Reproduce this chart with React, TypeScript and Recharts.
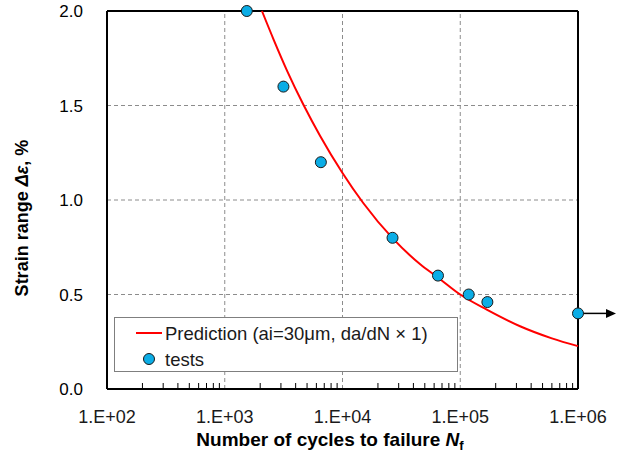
import React from 'react';
import { ComposedChart, Line, Scatter, XAxis, YAxis, CartesianGrid, ReferenceLine, Legend } from 'recharts';

// Prediction curve (ai=30µm, da/dN x1)
const predictionN = [2070, 2600, 3400, 4660, 6460, 10000, 15000, 26600, 45700, 64700, 100000, 168000, 322000, 600000, 1000000];
const predictionStrain = [2.0, 1.849, 1.681, 1.504, 1.339, 1.143, 0.984, 0.798, 0.66, 0.59, 0.5, 0.42, 0.332, 0.268, 0.227];

// Test results
const testN = [1540, 3150, 6550, 26600, 64700, 118000, 170000];
const testStrain = [2.0, 1.6, 1.2, 0.8, 0.6, 0.5, 0.46];

// Run-out test (no failure)
const runoutN = [1000000];
const runoutStrain = [0.4];

const xTicks = [100, 1000, 10000, 100000, 1000000];
const xMinorTicks = [100, 1000, 10000, 100000].flatMap((d) => [2, 3, 4, 5, 6, 7, 8, 9].map((m) => m * d));
const xInnerGrid = [1000, 10000, 100000];
const yTicks = [0, 0.5, 1.0, 1.5, 2.0];

const allXTicks = [...xTicks, ...xMinorTicks].sort((a, b) => a - b);
const predictionData = predictionN.map((N, i) => ({ N, e: predictionStrain[i] }));
const testData = testN.map((N, i) => ({ N, e: testStrain[i] }));
const runoutData = runoutN.map((N, i) => ({ N, e: runoutStrain[i] }));

const MARKER_FILL = '#0BADE6';
const MARKER_STROKE = '#1a1a1a';
const FONT = "'Liberation Sans', Arial, sans-serif";
const TICK_MARGIN = 21;

const Dot = (props: any) => {
  const { cx, cy } = props;
  return <circle cx={cx} cy={cy} r={5.5} fill={MARKER_FILL} stroke={MARKER_STROKE} strokeWidth={1} />;
};

const RunoutDot = (props: any) => {
  const { cx, cy } = props;
  return (
    <g>
      <line x1={cx} y1={cy} x2={cx + 30} y2={cy} stroke="#000" strokeWidth={1.5} />
      <polygon points={`${cx + 38},${cy} ${cx + 28},${cy - 4.5} ${cx + 28},${cy + 4.5}`} fill="#000" />
      <circle cx={cx} cy={cy} r={5.5} fill={MARKER_FILL} stroke={MARKER_STROKE} strokeWidth={1} />
    </g>
  );
};

const fmtX = (v: number) => {
  const exp = Math.round(Math.log10(v));
  return `1.E+${exp < 10 ? '0' + exp : exp}`;
};

const XTick = (props: any) => {
  const { x, y, payload } = props;
  const v = payload.value;
  const major = xTicks.includes(v);
  const axisY = y - TICK_MARGIN;
  return (
    <g>
      {!major && <line x1={x} x2={x} y1={axisY - 1} y2={axisY - 6} stroke="#000" strokeWidth={1} />}
      {major && (
        <text x={x} y={y} dy="0.71em" textAnchor="middle" fontFamily={FONT} fontSize={18} fill="#1a1a1a">
          {fmtX(v)}
        </text>
      )}
    </g>
  );
};

const LegendBox = (props: any) => {
  const items = (props.payload || []).filter((p: any) => p.type !== 'none');
  return (
    <div style={{ width: 344, height: 55, boxSizing: 'border-box', border: '1px solid #7f7f7f', background: '#fff' }}>
      <svg width={342} height={53} style={{ display: 'block' }}>
        {items.map((it: any, i: number) => {
          const cy = 15 + i * 26;
          return (
            <g key={i}>
              {it.type === 'line' ? (
                <line x1={21} y1={cy} x2={47} y2={cy} stroke="#ff0000" strokeWidth={2} />
              ) : (
                <circle cx={34} cy={cy} r={5.5} fill={MARKER_FILL} stroke={MARKER_STROKE} strokeWidth={1} />
              )}
              <text x={50} y={cy + 6.5} fontFamily={FONT} fontSize={18.5} fill="#1a1a1a">
                {it.value}
              </text>
            </g>
          );
        })}
      </svg>
    </div>
  );
};

const YTitle = () => (
  <text transform="translate(28, 218) rotate(-90)" textAnchor="middle" fontFamily={FONT} fontWeight="bold" fontSize={18} fill="#000">
    Strain range <tspan fontStyle="italic">Δε</tspan>, %
  </text>
);

const XTitle = () => (
  <text x={330} y={446} textAnchor="middle" fontFamily={FONT} fontWeight="bold" fontSize={19} fill="#000">
    Number of cycles to failure <tspan fontStyle="italic">N</tspan>
    <tspan fontSize={13} dy={4}>f</tspan>
  </text>
);

export default function App() {
  return (
    <div style={{ position: 'absolute', left: 0, top: 0, width: 621, height: 456, background: '#fff' }}>
      <ComposedChart width={621} height={456} margin={{ top: 11, right: 43, bottom: 0, left: 0 }}>
        <CartesianGrid vertical={false} stroke="#8c8c8c" strokeDasharray="4 3" strokeWidth={1} />
        {xInnerGrid.map((v) => (
          <ReferenceLine key={v} x={v} stroke="#8c8c8c" strokeDasharray="4 3" strokeWidth={1} />
        ))}
        <XAxis
          dataKey="N"
          type="number"
          scale="log"
          domain={[100, 1000000]}
          ticks={allXTicks}
          interval={0}
          height={67}
          tickLine={false}
          tickSize={0}
          tickMargin={TICK_MARGIN}
          axisLine={{ stroke: '#000', strokeWidth: 2 }}
          tick={<XTick />}
          label={<XTitle />}
        />
        <YAxis
          type="number"
          dataKey="e"
          domain={[0, 2]}
          ticks={yTicks}
          tickFormatter={(v: number) => v.toFixed(1)}
          width={107}
          tickLine={false}
          tickSize={0}
          tickMargin={24}
          axisLine={{ stroke: '#000', strokeWidth: 2 }}
          tick={{ fontFamily: FONT, fontSize: 17, fill: '#000' }}
          label={<YTitle />}
        />
        <ReferenceLine y={2} stroke="#000" strokeWidth={2} />
        <ReferenceLine x={1000000} stroke="#000" strokeWidth={2} />
        <Line
          data={predictionData}
          dataKey="e"
          type="monotone"
          stroke="#ff0000"
          strokeWidth={2}
          dot={false}
          activeDot={false}
          name="Prediction (ai=30μm, da/dN × 1)"
          legendType="line"
          isAnimationActive={false}
        />
        <Scatter data={testData} dataKey="e" name="tests" shape={<Dot />} legendType="circle" isAnimationActive={false} />
        <Scatter data={runoutData} dataKey="e" name="runout" shape={<RunoutDot />} legendType="none" isAnimationActive={false} />
        <Legend
          layout="vertical"
          align="center"
          verticalAlign="middle"
          content={<LegendBox />}
          wrapperStyle={{ left: 114, top: 317, width: 344, height: 55 }}
        />
      </ComposedChart>
    </div>
  );
}
